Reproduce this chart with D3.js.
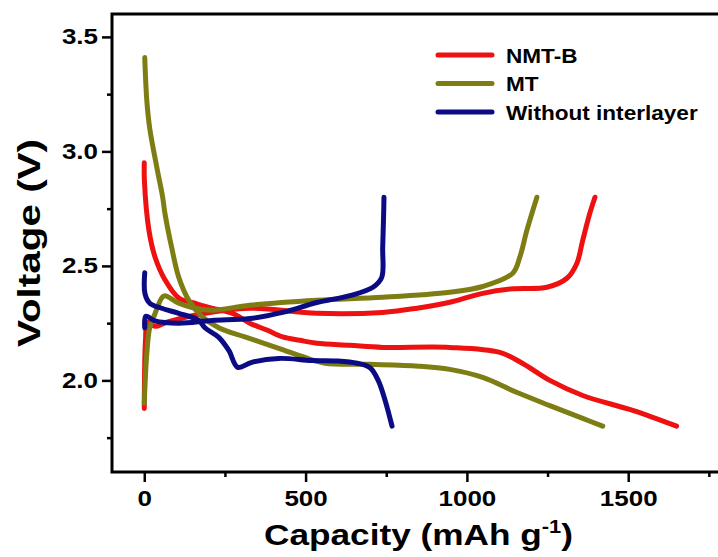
<!DOCTYPE html>
<html>
<head>
<meta charset="utf-8">
<script src="https://cdn.jsdelivr.net/npm/d3@7"></script>
<style>
  body { margin: 0; background: #fff; overflow: hidden; }
  svg { display: block; font-family: "Liberation Sans", Arial, sans-serif; font-weight: bold; }
</style>
</head>
<body>
<svg id="chart" width="718" height="557"></svg>
<script>
// values: capacity (mAh g-1) and voltage (V)
const nmtbDisCap = [0, 0.5, 14, 33, 64, 107, 157, 209, 274, 327, 380, 429, 482, 535, 637, 739, 947, 1102, 1173, 1257, 1359, 1514, 1650];
const nmtbDisV   = [2.95, 2.87, 2.66, 2.54, 2.44, 2.36, 2.337, 2.315, 2.293, 2.25, 2.22, 2.19, 2.175, 2.162, 2.153, 2.144, 2.144, 2.122, 2.074, 2.0, 1.934, 1.869, 1.80];
const nmtbChgCap = [0, 4, 10, 33, 70, 172, 327, 535, 739, 845, 947, 1049, 1142, 1248, 1310, 1341, 1359, 1381, 1397];
const nmtbChgV   = [1.877, 2.18, 2.254, 2.236, 2.254, 2.289, 2.315, 2.293, 2.297, 2.315, 2.341, 2.38, 2.40, 2.407, 2.446, 2.512, 2.612, 2.73, 2.80];

const mtDisCap = [1.5, 8, 17, 39, 57, 64, 85, 107, 138, 178, 231, 312, 417, 498, 560, 700, 850, 947, 1049, 1154, 1257, 1359, 1421];
const mtDisV   = [3.41, 3.22, 3.10, 2.93, 2.80, 2.73, 2.58, 2.45, 2.35, 2.28, 2.23, 2.19, 2.14, 2.10, 2.075, 2.07, 2.062, 2.048, 2.013, 1.948, 1.89, 1.834, 1.80];
const mtChgCap = [0, 8, 17, 33, 54, 64, 107, 157, 209, 327, 535, 739, 947, 1049, 1142, 1164, 1186, 1217];
const mtChgV   = [1.90, 2.12, 2.23, 2.29, 2.36, 2.37, 2.337, 2.315, 2.306, 2.328, 2.35, 2.363, 2.385, 2.41, 2.468, 2.538, 2.656, 2.80];

const woDisCap = [1.5, 2, 17, 54, 107, 169, 188, 231, 262, 290, 333, 417, 519, 600, 660, 700, 725, 745, 768];
const woDisV   = [2.47, 2.38, 2.337, 2.315, 2.293, 2.262, 2.23, 2.188, 2.131, 2.057, 2.079, 2.096, 2.087, 2.085, 2.075, 2.055, 2.0, 1.92, 1.80];
const woChgCap = [1.5, 5, 33, 107, 209, 327, 429, 535, 637, 709, 736, 739, 742, 743];
const woChgV   = [2.23, 2.28, 2.26, 2.25, 2.262, 2.27, 2.297, 2.34, 2.37, 2.407, 2.45, 2.58, 2.73, 2.80];

const seriesNames = ["NMT-B", "MT", "Without interlayer"];
const seriesColors = ["#ee1111", "#7d7d14", "#0b0b83"];

const xMajor = [0, 500, 1000, 1500];
const xMinor = [250, 750, 1250, 1750];
const yMajor = [2.0, 2.5, 3.0, 3.5];
const yMinor = [1.75, 2.25, 2.75, 3.25];

const svg = d3.select("#chart");
const pl = 112, pr = 725, pt = 14, pb = 472;

const x = d3.scaleLinear().domain([-100, 1800]).range([pl, pr]);
const y = d3.scaleLinear().domain([1.6, 3.6]).range([pb, pt]);

// stretch text sideways, the figure's lettering is wider than Arial
function widen(sel, k) {
  sel.each(function() {
    const w = this.getComputedTextLength();
    if (w > 0) d3.select(this).attr("textLength", w * k).attr("lengthAdjust", "spacingAndGlyphs");
  });
}

// curves
const curves = [
  { cap: nmtbDisCap, v: nmtbDisV, s: 0 },
  { cap: nmtbChgCap, v: nmtbChgV, s: 0 },
  { cap: mtDisCap, v: mtDisV, s: 1 },
  { cap: mtChgCap, v: mtChgV, s: 1 },
  { cap: woDisCap, v: woDisV, s: 2 },
  { cap: woChgCap, v: woChgV, s: 2 }
];

const line = d3.line()
  .x(d => x(d[0]))
  .y(d => y(d[1]))
  .curve(d3.curveCatmullRom.alpha(0.5));

svg.append("g").selectAll("path")
  .data(curves)
  .join("path")
  .attr("d", c => line(c.cap.map((k, i) => [k, c.v[i]])))
  .attr("fill", "none")
  .attr("stroke", c => seriesColors[c.s])
  .attr("stroke-width", 5)
  .attr("stroke-linecap", "round")
  .attr("stroke-linejoin", "round");

// axes
function styleAxis(g) {
  g.select(".domain").remove();
  g.selectAll("line").attr("stroke", "#000").attr("stroke-width", 2.5);
}

const xAxis = svg.append("g").attr("transform", `translate(0,${pb})`)
  .call(d3.axisBottom(x).tickValues(xMajor).tickSize(10).tickPadding(8).tickFormat(d3.format("d")))
  .call(styleAxis);
xAxis.selectAll("text").attr("font-size", 22).attr("fill", "#000")
  .attr("font-family", null).attr("font-weight", "bold");

svg.append("g").attr("transform", `translate(0,${pb})`)
  .call(d3.axisBottom(x).tickValues(xMinor).tickSize(5).tickFormat(""))
  .call(styleAxis);

const yAxis = svg.append("g").attr("transform", `translate(${pl},0)`)
  .call(d3.axisLeft(y).tickValues(yMajor).tickSize(10).tickPadding(4).tickFormat(d3.format(".1f")))
  .call(styleAxis);
yAxis.selectAll("text").attr("font-size", 22).attr("fill", "#000")
  .attr("font-family", null).attr("font-weight", "bold");

svg.append("g").attr("transform", `translate(${pl},0)`)
  .call(d3.axisLeft(y).tickValues(yMinor).tickSize(5).tickFormat(""))
  .call(styleAxis);

widen(svg.selectAll(".tick text"), 1.18);

// frame
svg.append("path")
  .attr("d", `M${pl},${pt}H${pr}M${pl},${pt}V${pb}H${pr}`)
  .attr("fill", "none").attr("stroke", "#000").attr("stroke-width", 3)
  .attr("stroke-linecap", "square");

// axis titles
const xt = svg.append("text")
  .attr("x", (pl + pr) / 2).attr("y", 545)
  .attr("text-anchor", "middle").attr("font-size", 29);
xt.append("tspan").text("Capacity (mAh g");
xt.append("tspan").attr("font-size", 18).attr("dy", -12).text("-1");
xt.append("tspan").attr("dy", 12).text(")");
xt.attr("textLength", 309).attr("lengthAdjust", "spacingAndGlyphs");

svg.append("text")
  .attr("transform", `translate(40,${(pt + pb) / 2}) rotate(-90)`)
  .attr("text-anchor", "middle").attr("font-size", 31)
  .attr("textLength", 208).attr("lengthAdjust", "spacingAndGlyphs")
  .text("Voltage (V)");

// legend
const legend = svg.append("g").selectAll("g")
  .data(seriesNames)
  .join("g")
  .attr("transform", (d, i) => `translate(0,${55 + i * 28.5})`);
legend.append("line")
  .attr("x1", 438).attr("x2", 492)
  .attr("stroke", (d, i) => seriesColors[i])
  .attr("stroke-width", 5).attr("stroke-linecap", "round");
legend.append("text")
  .attr("x", 506).attr("y", 7.5)
  .attr("font-size", 21)
  .text(d => d)
  .call(widen, 1.075);
</script>
</body>
</html>
